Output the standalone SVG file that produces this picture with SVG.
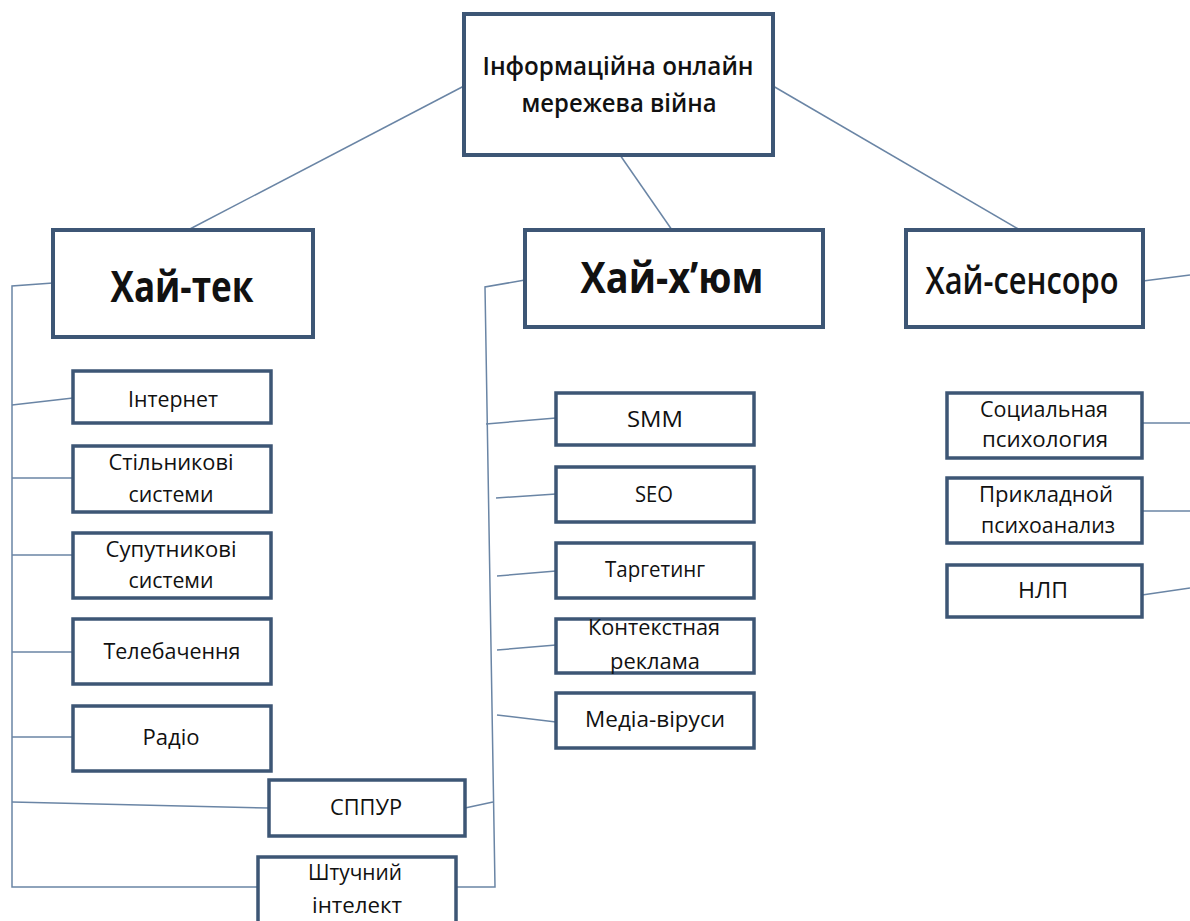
<svg xmlns="http://www.w3.org/2000/svg" width="1190" height="921" viewBox="0 0 1190 921">
<style>
.box{fill:#fff;stroke:#3d5675;stroke-width:3.5}
.main{stroke-width:4}
.t{font-family:"Open Sans","Noto Sans","DejaVu Sans",sans-serif;fill:#111;text-anchor:middle;font-size:21px}
.title{font-size:25px;font-weight:600}
.h{font-size:43px;font-weight:700}
.h2{font-size:37px;font-weight:600}
.c{fill:none;stroke:#6a85a5;stroke-width:1.5}
</style>
<rect width="1190" height="921" fill="#fff"/>
<g id="connectors">
<path class="c" d="M464,86 L188,230"/>
<path class="c" d="M620,155 L672,230"/>
<path class="c" d="M773,86 L1020,230"/>
<path class="c" d="M53,283 L12,286 L12,887 L258,887"/>
<path class="c" d="M12,405 L73,398"/>
<path class="c" d="M12,478 L73,478"/>
<path class="c" d="M12,555 L73,555"/>
<path class="c" d="M12,652 L73,652"/>
<path class="c" d="M12,737 L73,737"/>
<path class="c" d="M12,802 L269,808"/>
<path class="c" d="M525,280 L485,287 L495,887 L456,887"/>
<path class="c" d="M465,808 L493,802"/>
<path class="c" d="M486,424 L556,418"/>
<path class="c" d="M496,498 L556,494"/>
<path class="c" d="M497,576 L556,571"/>
<path class="c" d="M497,650 L556,645"/>
<path class="c" d="M497,715 L556,722"/>
<path class="c" d="M1143,281 L1190,275"/>
<path class="c" d="M1142,423 L1190,423"/>
<path class="c" d="M1142,511 L1190,511"/>
<path class="c" d="M1142,595 L1190,588"/>
</g>
<g id="root"><rect class="box main" x="464" y="14" width="309" height="141"/>
<text class="t title" x="618" y="75" textLength="271" lengthAdjust="spacingAndGlyphs">Інформаційна онлайн</text>
<text class="t title" x="619" y="112" textLength="195" lengthAdjust="spacingAndGlyphs">мережева війна</text></g>
<g id="hitech"><rect class="box main" x="53" y="230" width="260" height="107"/>
<text class="t h" x="182" y="302" textLength="143" lengthAdjust="spacingAndGlyphs">Хай-тек</text></g>
<g id="hihume"><rect class="box main" x="525" y="230" width="298" height="97"/>
<text class="t h" x="672" y="293" textLength="183" lengthAdjust="spacingAndGlyphs">Хай-х’юм</text></g>
<g id="hisenso"><rect class="box main" x="906" y="230" width="237" height="97"/>
<text class="t h2" x="1022" y="294" textLength="193" lengthAdjust="spacingAndGlyphs">Хай-сенсоро</text></g>
<g id="internet"><rect class="box" x="73" y="371" width="198" height="52"/>
<text class="t" x="173" y="407" textLength="90" lengthAdjust="spacingAndGlyphs">Інтернет</text></g>
<g id="cellular"><rect class="box" x="73" y="446" width="198" height="66"/>
<text class="t" x="171" y="470" textLength="125" lengthAdjust="spacingAndGlyphs">Стільникові</text>
<text class="t" x="171" y="502" textLength="85" lengthAdjust="spacingAndGlyphs">системи</text></g>
<g id="satellite"><rect class="box" x="73" y="533" width="198" height="65"/>
<text class="t" x="171" y="557" textLength="131" lengthAdjust="spacingAndGlyphs">Супутникові</text>
<text class="t" x="171" y="588" textLength="85" lengthAdjust="spacingAndGlyphs">системи</text></g>
<g id="tv"><rect class="box" x="73" y="619" width="198" height="65"/>
<text class="t" x="172" y="659" textLength="137" lengthAdjust="spacingAndGlyphs">Телебачення</text></g>
<g id="radio"><rect class="box" x="73" y="706" width="198" height="65"/>
<text class="t" x="171" y="745" textLength="57" lengthAdjust="spacingAndGlyphs">Радіо</text></g>
<g id="sppur"><rect class="box" x="269" y="780" width="196" height="56"/>
<text class="t" x="366" y="815" textLength="72" lengthAdjust="spacingAndGlyphs">СППУР</text></g>
<g id="ai"><rect class="box" x="258" y="857" width="198" height="70"/>
<text class="t" x="355" y="880" textLength="94" lengthAdjust="spacingAndGlyphs">Штучний</text>
<text class="t" x="357" y="913" textLength="90" lengthAdjust="spacingAndGlyphs">інтелект</text></g>
<g id="smm"><rect class="box" x="556" y="393" width="198" height="52"/>
<text class="t" x="655" y="427" textLength="56" lengthAdjust="spacingAndGlyphs">SMM</text></g>
<g id="seo"><rect class="box" x="556" y="467" width="198" height="55"/>
<text class="t" x="654" y="502" textLength="38" lengthAdjust="spacingAndGlyphs">SEO</text></g>
<g id="targeting"><rect class="box" x="556" y="543" width="198" height="55"/>
<text class="t" x="655" y="577" textLength="100" lengthAdjust="spacingAndGlyphs">Таргетинг</text></g>
<g id="context"><rect class="box" x="556" y="619" width="198" height="54"/>
<text class="t" x="654" y="635" textLength="132" lengthAdjust="spacingAndGlyphs">Контекстная</text>
<text class="t" x="655" y="669" textLength="90" lengthAdjust="spacingAndGlyphs">реклама</text></g>
<g id="media"><rect class="box" x="556" y="693" width="198" height="55"/>
<text class="t" x="655" y="727" textLength="140" lengthAdjust="spacingAndGlyphs">Медіа-віруси</text></g>
<g id="social"><rect class="box" x="947" y="393" width="195" height="65"/>
<text class="t" x="1044" y="417" textLength="128" lengthAdjust="spacingAndGlyphs">Социальная</text>
<text class="t" x="1045" y="447" textLength="126" lengthAdjust="spacingAndGlyphs">психология</text></g>
<g id="applied"><rect class="box" x="947" y="478" width="195" height="65"/>
<text class="t" x="1046" y="502" textLength="134" lengthAdjust="spacingAndGlyphs">Прикладной</text>
<text class="t" x="1048" y="533" textLength="134" lengthAdjust="spacingAndGlyphs">психоанализ</text></g>
<g id="nlp"><rect class="box" x="947" y="565" width="195" height="52"/>
<text class="t" x="1043" y="598" textLength="50" lengthAdjust="spacingAndGlyphs">НЛП</text></g>
</svg>
